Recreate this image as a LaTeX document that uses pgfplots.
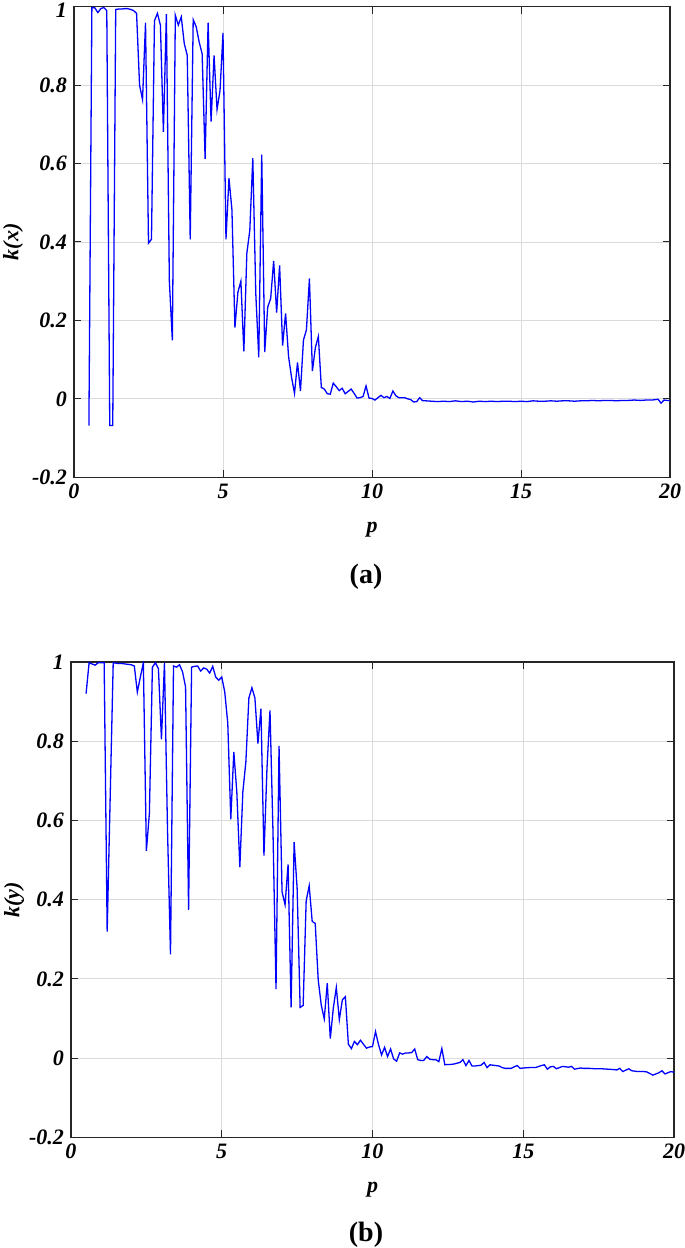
\documentclass[border=0pt]{standalone}
\usepackage{fontspec}
\setmainfont{Liberation Serif}
\usepackage{pgfplots}
\pgfplotsset{compat=1.18}

\pgfplotsset{
  kplot/.style={
    scale only axis,
    anchor=south west,
    xmin=0, xmax=20, ymin=-0.2, ymax=1,
    xtick={0,5,10,15,20},
    ytick={-0.2,0,0.2,0.4,0.6,0.8,1},
    yticklabels={-0.2,0,0.2,0.4,0.6,0.8,1},
    /pgf/number format/assume math mode=true,
    tick label style={font=\fontsize{11}{12}\selectfont\bfseries\itshape},
    label style={font=\fontsize{11}{12}\selectfont\bfseries\itshape},
    grid=major,
    grid style={gray!28, line width=0.4pt},
    axis line style={black!85, line width=0.65pt},
    major tick length=3.5pt,
    tick style={black!85, line width=0.5pt},
    xlabel style={at={(axis description cs:0.5,0)}, anchor=center, yshift=-26pt},
  },
}

\begin{document}
\begin{tikzpicture}
\useasboundingbox (0,0) rectangle (342.5pt,624pt);

% (a)
\begin{axis}[kplot,
  at={(37pt,385.35pt)}, width=298pt, height=235.3pt,
  yticklabels={-0.2,0,0.2,0.4,0.6,0.8,\raisebox{-5.5pt}[0pt][0pt]{1}},
  xlabel={p}, ylabel={k(x)},
  ylabel style={at={(axis description cs:-0.1023,0.5)}, anchor=center},
]
\addplot[blue, line width=0.65pt] coordinates {
(0.5,-0.068)(0.6,0.998)(0.7,0.997)(0.8,0.985)(0.9,0.995)(1.0,0.998)(1.1,0.99)
(1.2,-0.068)(1.3,-0.068)(1.4,0.993)(1.5,0.994)(1.6,0.994)(1.7,0.995)(1.8,0.995)
(1.9,0.993)(2.0,0.99)(2.1,0.983)(2.2,0.80)(2.3,0.763)(2.4,0.959)(2.5,0.397)
(2.6,0.407)(2.7,0.964)(2.8,0.983)(2.9,0.953)(3.0,0.681)(3.1,0.981)(3.2,0.30)
(3.3,0.149)(3.4,0.978)(3.5,0.953)(3.6,0.974)(3.7,0.906)(3.8,0.876)(3.9,0.407)
(4.0,0.967)(4.1,0.949)(4.2,0.91)(4.3,0.88)(4.4,0.612)(4.5,0.959)(4.6,0.707)
(4.7,0.876)(4.8,0.738)(4.9,0.786)(5.0,0.933)(5.1,0.407)(5.2,0.563)(5.3,0.482)
(5.4,0.182)(5.5,0.272)(5.6,0.30)(5.7,0.121)(5.8,0.371)(5.9,0.43)(6.0,0.614)
(6.1,0.269)(6.2,0.106)(6.3,0.623)(6.4,0.119)(6.5,0.234)(6.6,0.256)(6.7,0.352)
(6.8,0.22)(6.9,0.34)(7.0,0.136)(7.1,0.218)(7.2,0.108)(7.3,0.055)(7.4,0.014)
(7.5,0.093)(7.6,0.02)(7.7,0.15)(7.8,0.176)(7.9,0.307)(8.0,0.071)(8.1,0.131)
(8.2,0.159)(8.3,0.029)(8.4,0.025)(8.5,0.013)(8.6,0.012)(8.7,0.04)(8.8,0.031)
(8.9,0.021)(9.0,0.027)(9.1,0.013)(9.2,0.019)(9.3,0.025)(9.4,0.014)(9.5,0.002)
(9.6,0.003)(9.7,0.006)(9.8,0.033)(9.9,0.002)(10.0,0.001)(10.1,-0.003)(10.2,0.003)
(10.3,0.009)(10.4,0.003)(10.5,0.006)(10.6,0.001)(10.7,0.02)(10.8,0.008)(10.9,0.003)
(11.0,0.003)(11.1,0.003)(11.2,0.0)(11.3,-0.002)(11.4,-0.008)(11.5,-0.007)(11.6,0.003)
(11.7,-0.005)(11.8,-0.005)(12.0,-0.006)(12.2,-0.007)(12.4,-0.006)(12.6,-0.007)
(12.8,-0.005)(13.0,-0.007)(13.2,-0.006)(13.4,-0.008)(13.6,-0.006)(13.8,-0.007)
(14.0,-0.006)(14.2,-0.007)(14.4,-0.006)(14.6,-0.006)(14.8,-0.007)(15.0,-0.006)
(15.2,-0.007)(15.4,-0.005)(15.6,-0.006)(15.8,-0.006)(16.0,-0.005)(16.2,-0.006)
(16.4,-0.005)(16.6,-0.005)(16.8,-0.006)(17.0,-0.005)(17.2,-0.005)(17.4,-0.004)
(17.6,-0.005)(17.8,-0.004)(18.0,-0.004)(18.2,-0.005)(18.4,-0.004)(18.6,-0.004)
(18.8,-0.003)(19.0,-0.004)(19.2,-0.003)(19.4,-0.003)(19.6,-0.001)(19.7,-0.011)
(19.8,-0.003)(19.9,-0.004)(20.0,-0.004)};
\end{axis}
\node[font=\fontsize{14}{16}\selectfont\bfseries] at (183pt,335.5pt) {(a)};

% (b)
\begin{axis}[kplot,
  at={(35.5pt,55.35pt)}, width=301.5pt, height=237.65pt,
  xlabel={p}, ylabel={k(y)},
  ylabel style={at={(axis description cs:-0.0945,0.5)}, anchor=center},
]
\addplot[blue, line width=0.65pt] coordinates {
(0.5,0.92)(0.6,0.998)(0.7,0.995)(0.8,0.992)(0.9,0.998)(1.0,0.998)(1.1,0.998)
(1.2,0.319)(1.3,0.66)(1.4,0.998)(1.5,0.997)(1.6,0.996)(1.7,0.996)(1.8,0.995)
(1.9,0.994)(2.0,0.993)(2.1,0.99)(2.2,0.924)(2.3,0.962)(2.4,0.998)(2.5,0.523)
(2.6,0.618)(2.7,0.987)(2.8,0.998)(2.9,0.983)(3.0,0.805)(3.1,0.998)(3.2,0.58)
(3.3,0.262)(3.4,0.99)(3.5,0.987)(3.6,0.993)(3.7,0.975)(3.8,0.937)(3.9,0.374)
(4.0,0.987)(4.1,0.989)(4.2,0.99)(4.3,0.977)(4.4,0.985)(4.5,0.982)(4.6,0.972)
(4.7,0.989)(4.8,0.962)(4.9,0.954)(5.0,0.962)(5.1,0.924)(5.2,0.845)(5.3,0.603)
(5.4,0.773)(5.5,0.672)(5.6,0.482)(5.7,0.672)(5.8,0.748)(5.9,0.909)(6.0,0.935)
(6.1,0.909)(6.2,0.794)(6.3,0.882)(6.4,0.511)(6.5,0.731)(6.6,0.878)(6.7,0.57)
(6.8,0.174)(6.9,0.788)(7.0,0.42)(7.1,0.387)(7.2,0.489)(7.3,0.128)(7.4,0.545)
(7.5,0.429)(7.6,0.128)(7.7,0.133)(7.8,0.397)(7.9,0.435)(8.0,0.345)(8.1,0.34)
(8.2,0.197)(8.3,0.134)(8.4,0.099)(8.5,0.189)(8.6,0.049)(8.7,0.126)(8.8,0.178)
(8.9,0.097)(9.0,0.147)(9.1,0.155)(9.2,0.035)(9.3,0.024)(9.4,0.042)(9.5,0.034)
(9.6,0.045)(9.7,0.035)(9.8,0.025)(9.9,0.028)(10.0,0.029)(10.1,0.067)(10.2,0.034)
(10.3,0.008)(10.4,0.027)(10.5,0.004)(10.6,0.023)(10.7,-0.002)(10.8,-0.008)
(10.9,0.013)(11.0,0.01)(11.1,0.013)(11.2,0.013)(11.3,0.014)(11.4,0.023)
(11.5,-0.004)(11.6,-0.006)(11.7,-0.006)(11.8,0.004)(11.9,-0.003)(12.0,-0.004)
(12.1,-0.004)(12.2,-0.009)(12.3,0.024)(12.4,-0.017)(12.5,-0.016)(12.6,-0.016)
(12.7,-0.015)(12.8,-0.013)(12.9,-0.011)(13.0,-0.004)(13.1,-0.019)(13.2,-0.006)
(13.3,-0.02)(13.4,-0.02)(13.5,-0.019)(13.6,-0.018)(13.7,-0.011)(13.8,-0.024)
(13.9,-0.017)(14.0,-0.018)(14.2,-0.02)(14.3,-0.024)(14.4,-0.026)(14.6,-0.026)
(14.7,-0.022)(14.8,-0.019)(14.9,-0.026)(15.0,-0.025)(15.2,-0.024)(15.4,-0.024)
(15.6,-0.019)(15.7,-0.017)(15.8,-0.028)(15.9,-0.022)(16.0,-0.021)(16.1,-0.027)
(16.3,-0.021)(16.5,-0.023)(16.6,-0.021)(16.7,-0.028)(16.9,-0.025)(17.0,-0.026)
(17.2,-0.026)(17.4,-0.027)(17.6,-0.027)(17.8,-0.028)(18.0,-0.029)(18.1,-0.03)
(18.2,-0.026)(18.3,-0.034)(18.5,-0.027)(18.6,-0.032)(18.8,-0.034)(19.0,-0.034)
(19.1,-0.035)(19.3,-0.043)(19.5,-0.037)(19.6,-0.032)(19.7,-0.04)(19.9,-0.034)
(20.0,-0.036)};
\end{axis}
\node[font=\fontsize{14}{16}\selectfont\bfseries] at (183pt,6.5pt) {(b)};
\end{tikzpicture}
\end{document}
